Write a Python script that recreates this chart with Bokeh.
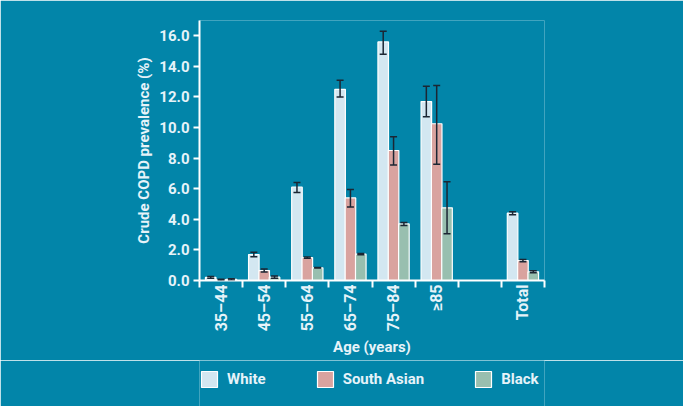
import math
from bokeh.plotting import figure
from bokeh.layouts import column
from bokeh.models import (ColumnDataSource, Whisker, TeeHead, FixedTicker, Legend, LegendItem)
from bokeh.embed import file_html
from bokeh.resources import INLINE

categories = ["35\u201344", "45\u201354", "55\u201364", "65\u201374", "75\u201384", "\u226585", "", "Total"]
bar_groups = ["35\u201344", "45\u201354", "55\u201364", "65\u201374", "75\u201384", "\u226585", "Total"]

white = [0.2, 1.7, 6.1, 12.5, 15.6, 11.7, 4.4]
white_lo = [0.14, 1.55, 5.75, 12.0, 14.8, 10.7, 4.3]
white_hi = [0.26, 1.85, 6.4, 13.1, 16.3, 12.7, 4.5]

south_asian = [0.05, 0.65, 1.5, 5.4, 8.5, 10.25, 1.3]
south_asian_lo = [0.02, 0.55, 1.46, 4.8, 7.55, 7.6, 1.23]
south_asian_hi = [0.08, 0.75, 1.54, 5.95, 9.4, 12.75, 1.37]

black = [0.08, 0.22, 0.83, 1.72, 3.7, 4.75, 0.57]
black_lo = [0.03, 0.15, 0.81, 1.68, 3.6, 3.05, 0.5]
black_hi = [0.12, 0.3, 0.85, 1.76, 3.8, 6.45, 0.64]

y_ticks = [0, 2, 4, 6, 8, 10, 12, 14, 16]

BG = "#0285A9"
TXT = "#E6F3F9"
FONT = "Roboto"
ERR = "#1B2633"

p = figure(width=683, height=360, x_range=(0, len(categories)), y_range=(0, 17),
           output_backend="svg", toolbar_location=None,
           min_border_left=199, min_border_right=139, min_border_top=20, min_border_bottom=80)
p.background_fill_color = BG
p.border_fill_color = BG
p.outline_line_color = None
p.grid.visible = False

centers = [categories.index(g) + 0.5 for g in bar_groups]
bw = 0.245
off = 0.24

series = [
    ("White", white, white_lo, white_hi, "#D3E7F1", -off),
    ("South Asian", south_asian, south_asian_lo, south_asian_hi, "#D9A39F", 0.0),
    ("Black", black, black_lo, black_hi, "#98BFAF", off),
]

# legend strip below the chart (its proxy bars lie outside its visible y range)
lf = figure(width=683, height=46, x_range=(0, 1), y_range=(100, 101),
            x_axis_type=None, y_axis_type=None,
            output_backend="svg", toolbar_location=None,
            min_border_left=0, min_border_right=0, min_border_top=0, min_border_bottom=0)
lf.background_fill_color = BG
lf.border_fill_color = BG
lf.outline_line_color = None
lf.grid.visible = False

items = []
for name, vals, lo, hi, col, dx in series:
    xs = [c + dx for c in centers]
    src = ColumnDataSource(dict(x=xs, top=vals, lo=lo, hi=hi))
    p.vbar(x="x", top="top", width=bw, source=src, fill_color=col,
           line_color="white", line_width=1.2)
    w = Whisker(base="x", lower="lo", upper="hi", source=src, dimension="height",
                level="overlay", line_color=ERR, line_width=1.5,
                upper_head=TeeHead(size=7, line_color=ERR, line_width=1.5),
                lower_head=TeeHead(size=7, line_color=ERR, line_width=1.5))
    p.add_layout(w)
    lr = lf.vbar(x="x", top="top", width=bw, source=src, fill_color=col,
                 line_color="white", line_width=1.2)
    items.append(LegendItem(label=name, renderers=[lr]))

legend = Legend(items=items, orientation="horizontal", location=(0, 17),
                glyph_width=20, glyph_height=20, spacing=49, label_standoff=8,
                padding=0, margin=0, background_fill_alpha=0, border_line_alpha=0,
                label_text_color=TXT, label_text_font=FONT, label_text_font_style="bold",
                label_text_font_size="15px")
lf.add_layout(legend, "center")

# axes
p.yaxis.ticker = FixedTicker(ticks=y_ticks)
p.yaxis.major_label_overrides = {t: f"{t:.1f}" for t in y_ticks}
p.yaxis.axis_label = "Crude COPD prevalence (%)"

p.xaxis.ticker = FixedTicker(ticks=[i + 0.5 for i in range(len(categories))],
                             minor_ticks=list(range(len(categories) + 1)))
p.xaxis.major_label_overrides = {i + 0.5: c for i, c in enumerate(categories)}
p.xaxis.major_label_orientation = math.pi / 2
p.xaxis.axis_label = "Age (years)"

for ax in (p.xaxis, p.yaxis):
    ax.axis_line_color = "white"
    ax.axis_line_width = 2
    ax.major_label_text_color = TXT
    ax.major_label_text_font = FONT
    ax.major_label_text_font_style = "bold"
    ax.major_label_text_font_size = "15px"
    ax.axis_label_text_color = TXT
    ax.axis_label_text_font = FONT
    ax.axis_label_text_font_style = "bold"
    ax.axis_label_text_font_size = "15px"

p.xaxis.major_label_text_font_size = "16px"
p.xaxis.major_tick_line_color = None
p.xaxis.major_tick_out = 0
p.xaxis.major_tick_in = 0
p.xaxis.minor_tick_line_color = "white"
p.xaxis.minor_tick_line_width = 2
p.xaxis.minor_tick_in = 0
p.xaxis.minor_tick_out = 7
p.xaxis.major_label_standoff = -3
p.xaxis.axis_label_standoff = 4

p.yaxis.major_tick_line_color = "white"
p.yaxis.major_tick_line_width = 2
p.yaxis.major_tick_in = 0
p.yaxis.major_tick_out = 6
p.yaxis.minor_tick_line_color = None
p.yaxis.major_label_standoff = 4
p.yaxis.axis_label_standoff = 3

layout = column(p, lf, spacing=0)
html = file_html(layout, INLINE)
html = html.replace("<body>", '<body style="background-color:#0285A9;">', 1)
open("out.html", "w").write(html)
